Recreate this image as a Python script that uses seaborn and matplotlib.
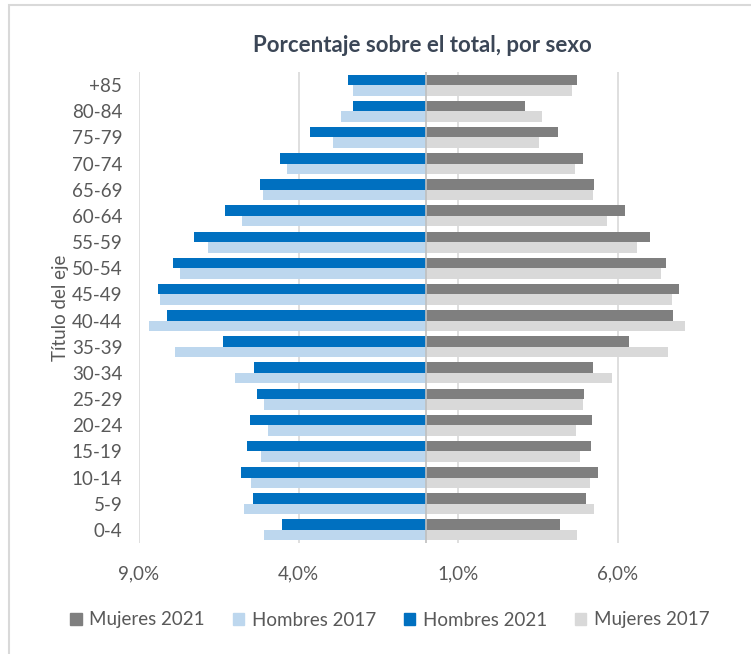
import matplotlib
matplotlib.use("Agg")
import matplotlib.pyplot as plt
import matplotlib.patches as mpatches
import seaborn as sns
import pandas as pd

edades = ["+85", "80-84", "75-79", "70-74", "65-69", "60-64", "55-59", "50-54",
          "45-49", "40-44", "35-39", "30-34", "25-29", "20-24", "15-19", "10-14",
          "5-9", "0-4"]
hombres_2021 = [2.45, 2.30, 3.63, 4.57, 5.22, 6.32, 7.27, 7.95, 8.39, 8.12,
                6.38, 5.40, 5.29, 5.51, 5.63, 5.80, 5.42, 4.53]
hombres_2017 = [2.29, 2.66, 2.93, 4.37, 5.10, 5.78, 6.83, 7.70, 8.35, 8.69,
                7.87, 6.00, 5.09, 4.97, 5.18, 5.49, 5.72, 5.09]
mujeres_2021 = [4.73, 3.09, 4.12, 4.91, 5.25, 6.22, 7.01, 7.52, 7.93, 7.74,
                6.35, 5.23, 4.94, 5.19, 5.16, 5.38, 5.01, 4.20]
mujeres_2017 = [4.57, 3.62, 3.52, 4.67, 5.23, 5.65, 6.59, 7.35, 7.70, 8.10,
                7.56, 5.82, 4.92, 4.70, 4.82, 5.14, 5.26, 4.73]
tick_vals = [-9, -4, 1, 6]
tick_labels = ["9,0%", "4,0%", "1,0%", "6,0%"]

colores = {"Mujeres 2021": "#7F7F7F", "Hombres 2017": "#BDD7EE",
           "Hombres 2021": "#0070C0", "Mujeres 2017": "#D9D9D9"}

hombres = pd.DataFrame({
    "edad": edades * 2,
    "valor": [-v for v in hombres_2021] + [-v for v in hombres_2017],
    "serie": ["2021"] * len(edades) + ["2017"] * len(edades),
})
mujeres = pd.DataFrame({
    "edad": edades * 2,
    "valor": mujeres_2021 + mujeres_2017,
    "serie": ["2021"] * len(edades) + ["2017"] * len(edades),
})

sns.set_style("white")
FONT = ["Lato", "DejaVu Sans"]
plt.rcParams["font.family"] = FONT

fig = plt.figure(figsize=(7.51, 6.54), dpi=100)
ax = fig.add_axes([139 / 751, 1 - 543 / 654, (713.5 - 139) / 751, (543 - 72) / 654])

for x in tick_vals:
    ax.axvline(x, color="#D9D9D9", lw=1.2, zorder=0)

sns.barplot(data=hombres, y="edad", x="valor", hue="serie", order=edades,
            hue_order=["2021", "2017"], orient="h", width=0.8, saturation=1,
            palette={"2021": colores["Hombres 2021"], "2017": colores["Hombres 2017"]},
            linewidth=0, errorbar=None, legend=False, ax=ax, zorder=2)
sns.barplot(data=mujeres, y="edad", x="valor", hue="serie", order=edades,
            hue_order=["2021", "2017"], orient="h", width=0.8, saturation=1,
            palette={"2021": colores["Mujeres 2021"], "2017": colores["Mujeres 2017"]},
            linewidth=0, errorbar=None, legend=False, ax=ax, zorder=2)

ax.axvline(0, color="#BFBFBF", lw=1.2, zorder=3)
ax.set_xlim(-9, 9)
ax.set_ylim(len(edades) - 0.5, -0.5)
ax.set_xticks(tick_vals)
ax.set_xticklabels(tick_labels)
for s in ax.spines.values():
    s.set_visible(False)
ax.tick_params(axis="both", length=0, labelsize=13.5, colors="#595959")
ax.tick_params(axis="x", pad=16)
ax.tick_params(axis="y", pad=12)
ax.set_xlabel("")
ax.set_ylabel("Título del eje", fontsize=13.5, color="#595959", labelpad=2)

fig.text(422 / 751, 1 - 45 / 654, "Porcentaje sobre el total, por sexo",
         ha="center", va="center", fontsize=16, fontweight="bold", color="#3B4656")

orden = ["Mujeres 2021", "Hombres 2017", "Hombres 2021", "Mujeres 2017"]
handles = [mpatches.Patch(color=colores[k], label=k) for k in orden]
fig.legend(handles=handles, loc="center", bbox_to_anchor=(390 / 751, 1 - 620 / 654),
           ncol=4, frameon=False, fontsize=13.5, labelcolor="#595959",
           handlelength=0.6, handleheight=0.6, handletextpad=0.4, columnspacing=1.5)

border = mpatches.Rectangle((9 / 751, -0.05), 1.2, 1 - 5 / 654 + 0.05,
                            transform=fig.transFigure, fill=False,
                            edgecolor="#D9D9D9", lw=1.5)
fig.patches.append(border)

fig.savefig("out.png", dpi=100)
